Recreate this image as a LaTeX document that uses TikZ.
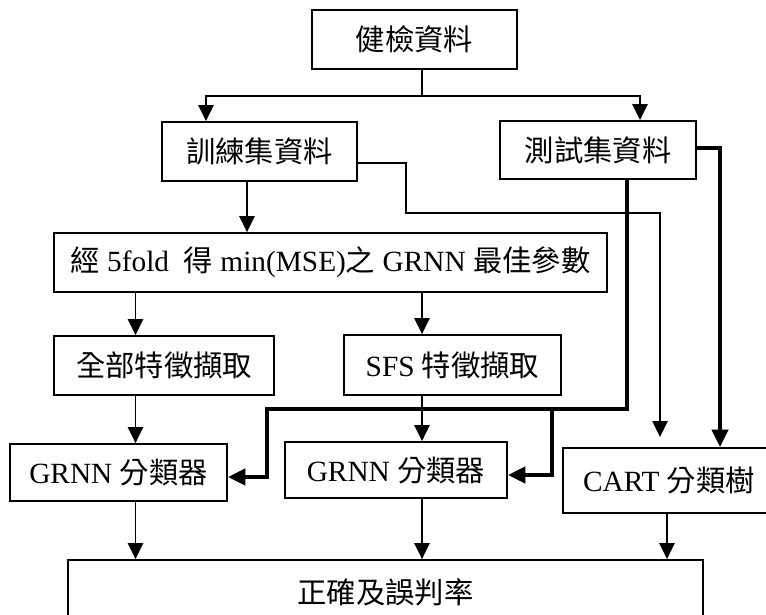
\documentclass[tikz,border=0pt]{standalone}
\usepackage{fontspec}
\setmainfont{Liberation Serif}
\newfontfamily\cjk{Noto Sans CJK TC}
\usetikzlibrary{arrows.meta,calc}
\begin{document}
\begin{tikzpicture}[x=0.75pt,y=-0.75pt,
    box/.style 2 args={draw,line width=1.4pt,inner sep=0pt,
      minimum width=#1*0.75pt,minimum height=#2*0.75pt,
      font=\fontsize{22}{26}\selectfont},
    arr/.style={line width=1.1pt,-{Triangle[length=12pt,width=11.5pt]}},
    thk/.style={line width=3pt,-{Triangle[length=13pt,width=12pt]}}]
      \useasboundingbox (0,0) rectangle (766,614);
      \node[box={205}{59}] at (414.5,39.5) (data) {{\cjk 健檢資料}};
      \node[box={195}{59}] at (259.5,151.5) (train) {{\cjk 訓練集資料}};
      \node[box={196}{58}] at (598,150) (test) {{\cjk 測試集資料}};
      \node[box={553}{59}] at (330.5,262.5) (param)
        {{\cjk 經} 5fold\ \ {\cjk 得} min(MSE){\cjk 之} GRNN {\cjk 最佳參數}};
      \node[box={220}{59}] at (164,365.5) (allfeat) {{\cjk 全部特徵擷取}};
      \node[box={217}{60}] at (452.5,365) (sfs) {SFS {\cjk 特徵擷取}};
      \node[box={217}{57}] at (118.5,472.5) (grnn1) {GRNN {\cjk 分類器}};
      \node[box={222}{56}] at (396,470) (grnn2) {GRNN {\cjk 分類器}};
      \node[box={212}{65}] at (669,480.5) (cart) {CART {\cjk 分類樹}};
      \node[box={635}{64}] at (385.5,592) (result) {{\cjk 正確及誤判率}};
      \coordinate (fork) at (422,96);
      \coordinate (c1) at (135.5,0);
      \coordinate (c2) at (422,0);
      \coordinate (c3) at (667,0);
      \coordinate (c4) at (247,0);
      \coordinate (bend) at (406,213);
      \coordinate (cartin) at (660,437);
      \coordinate (t1) at (627,409);
      \coordinate (t2) at (267,477);
      \coordinate (t3) at (552,475);
      \coordinate (t4) at (720,148);
      \draw[line width=1.1pt] (data.south -| fork) -- (fork);
      \draw[arr] (fork) -| ($(train.north)+(-53.5,0)$);
      \draw[arr] (fork) -| ($(test.north)+(42,0)$);
      \draw[arr] (train.south -| c4) -- (param.north -| c4);
      \draw[arr] ($(train.east)+(0,11.5)$) -| (bend) -| (cartin);
      \draw[arr] (param.south -| c1) -- (allfeat.north -| c1);
      \draw[arr] (param.south -| c2) -- (sfs.north -| c2);
      \draw[arr] (allfeat.south -| c1) -- (grnn1.north -| c1);
      \draw[arr] (sfs.south -| c2) -- (grnn2.north -| c2);
      \draw[thk] (test.south -| t1) -- (t1) -| (t2) -- (grnn1.east |- t2);
      \draw[thk] (t3 |- t1) -- (t3) -- (grnn2.east |- t3);
      \draw[thk] (test.east |- t4) -- (t4) -- (cart.north -| t4);
      \draw[arr] (grnn1.south -| c1) -- (result.north -| c1);
      \draw[arr] (grnn2.south -| c2) -- (result.north -| c2);
      \draw[arr] (cart.south -| c3) -- (result.north -| c3);
    \end{tikzpicture}
\end{document}
